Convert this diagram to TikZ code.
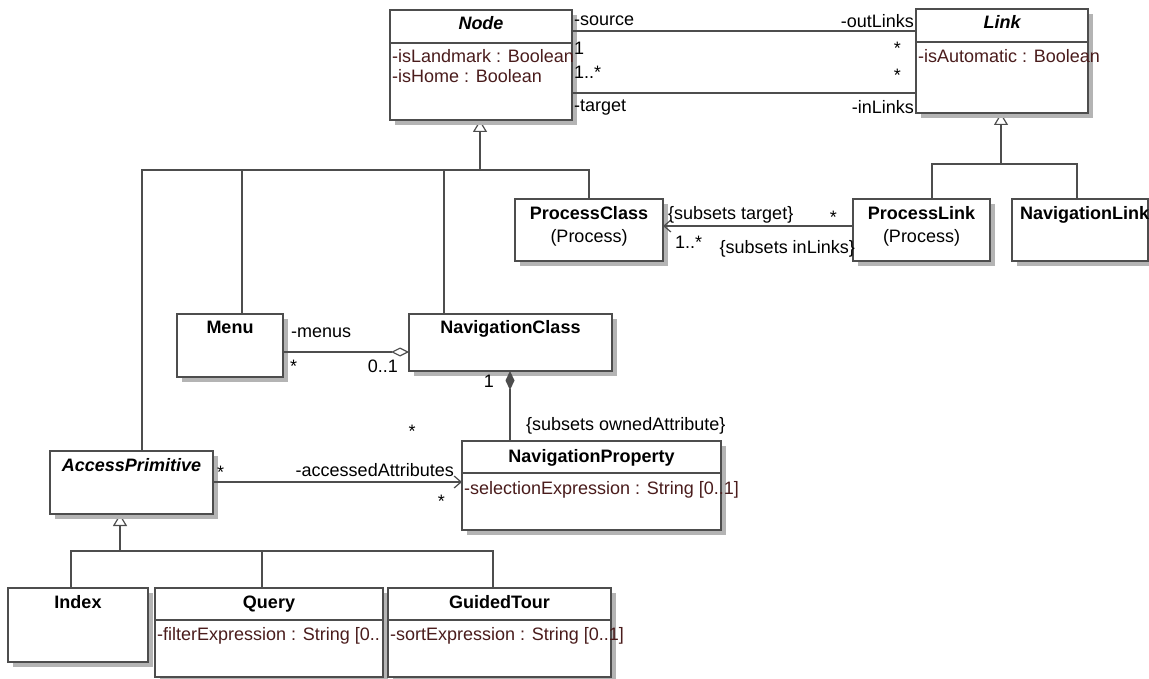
\documentclass[tikz,border=0pt]{standalone}
\usepackage{fontspec}
\setmainfont{Liberation Sans}
\usepackage{tikz}
\usetikzlibrary{positioning,calc,arrows.meta,shadows}
\definecolor{linegray}{HTML}{4D4D4D}
\definecolor{shadowgray}{HTML}{B4B4B4}
\definecolor{attrbrown}{HTML}{4A1C1C}
\newcommand{\umlsize}{\fontsize{18}{21}\selectfont}
\pgfdeclarelayer{background}
\pgfsetlayers{background,main}

\begin{document}
\begin{tikzpicture}[x=1pt, y=-1pt,
  cls/.style={draw=linegray, line width=1.2pt, fill=white, rectangle, anchor=north west,
    outer sep=0pt, inner sep=0pt,
    drop shadow={shadow xshift=5pt, shadow yshift=-5pt, fill=shadowgray, opacity=1}},
  title/.style={font=\umlsize\bfseries, anchor=base, inner sep=0pt},
  attr/.style={font=\umlsize, text=attrbrown, anchor=base west, inner sep=0pt},
  lbl/.style={font=\umlsize, inner sep=0pt},
  line/.style={draw=linegray, line width=1.2pt},
  sepline/.style={draw=linegray, line width=1.2pt},
  gen/.style={line, -{Triangle[open, length=12pt, width=14pt]}},
  nav/.style={line, -{Straight Barb[length=7pt, width=12pt]}}]

\useasboundingbox (0,0) rectangle (1149,679);

% top classes
\node[cls, minimum width=182pt, minimum height=110pt] (node) at (390,10) {};
\node[title] (nodename) at ([yshift=-20pt]node.north) {\itshape Node};
\draw[sepline] ([yshift=-33pt]node.north west) -- ([yshift=-33pt]node.north east);
\node[attr] (nodeattr1) at ([shift={(2,53)}]node.north west) {-isLandmark : Boolean};
\node[attr] (nodeattr2) at ([shift={(2,73)}]node.north west) {-isHome : Boolean};

\node[cls, minimum width=172pt, minimum height=104pt] (link) at (916,9) {};
\node[title] (linkname) at ([yshift=-20pt]link.north) {\itshape Link};
\draw[sepline] ([yshift=-33pt]link.north west) -- ([yshift=-33pt]link.north east);
\node[attr] (linkattr1) at ([shift={(2,54)}]link.north west) {-isAutomatic : Boolean};

% process / navigation links
\node[cls, minimum width=148pt, minimum height=62pt] (pclass) at (515,199) {};
\node[title] (pclassname) at ([yshift=-21pt]pclass.north) {ProcessClass};
\node[title, font=\umlsize] (pclasspkg) at ([yshift=-44pt]pclass.north) {(Process)};

\node[cls, minimum width=137pt, minimum height=62pt] (plink) at (853,199) {};
\node[title] (plinkname) at ([yshift=-21pt]plink.north) {ProcessLink};
\node[title, font=\umlsize] (plinkpkg) at ([yshift=-44pt]plink.north) {(Process)};

\node[cls, minimum width=136pt, minimum height=62pt] (navlink) at (1012,199) {};
\node[title] (navlinkname) at ([shift={(8,21)}]navlink.north west) [anchor=base west] {NavigationLink};

% navigation classes
\node[cls, minimum width=106pt, minimum height=63pt] (menu) at (177,314) {};
\node[title] (menuname) at ([yshift=-19pt]menu.north) {Menu};

\node[cls, minimum width=203pt, minimum height=57pt] (navclass) at (409,314) {};
\node[title] (navclassname) at ([yshift=-19pt]navclass.north) {NavigationClass};

\node[cls, minimum width=259pt, minimum height=89pt] (navprop) at (462,441) {};
\node[title] (navpropname) at ([yshift=-21pt]navprop.north) {NavigationProperty};
\draw[sepline] ([yshift=-32pt]navprop.north west) -- ([yshift=-32pt]navprop.north east);
\node[attr] (navpropattr1) at ([shift={(2,53)}]navprop.north west) {-selectionExpression : String [0..1]};

\node[cls, minimum width=163pt, minimum height=63pt] (access) at (50,451) {};
\node[title] (accessname) at ([yshift=-20pt]access.north) {\itshape AccessPrimitive};

% access primitives
\node[cls, minimum width=140pt, minimum height=74pt] (index) at (8,588) {};
\node[title] (indexname) at ([yshift=-20pt]index.north) {Index};

\node[cls, minimum width=228pt, minimum height=89pt] (query) at (155,588) {};
\node[title] (queryname) at ([yshift=-20pt]query.north) {Query};
\draw[sepline] ([yshift=-32pt]query.north west) -- ([yshift=-32pt]query.north east);
\node[attr] (queryattr1) at ([shift={(2,52)}]query.north west) {-filterExpression : String [0..};

\node[cls, minimum width=223pt, minimum height=89pt] (tour) at (388,588) {};
\node[title] (tourname) at ([yshift=-20pt]tour.north) {GuidedTour};
\draw[sepline] ([yshift=-32pt]tour.north west) -- ([yshift=-32pt]tour.north east);
\node[attr] (tourattr1) at ([shift={(2,52)}]tour.north west) {-sortExpression : String [0..1]};

% generalizations, behind the shadows
\begin{pgfonlayer}{background}
\coordinate (nfork) at (480,170);
\draw[gen] (nfork) -- (nfork |- node.south);
\draw[line] (access.north -| 142,0) |- (nfork);
\draw[line] (menu.north -| 242,0) |- (nfork);
\draw[line] (navclass.north -| 444,0) |- (nfork);
\draw[line] (pclass.north) |- (nfork);

\coordinate (lfork) at (1001,164);
\draw[gen] (lfork) -- (lfork |- link.south);
\draw[line] (plink.north -| 932,0) |- (lfork);
\draw[line] (navlink.north -| 1077,0) |- (lfork);

\coordinate (afork) at (120,551);
\draw[gen] (afork) -- (afork |- access.south);
\draw[line] (index.north -| 71,0) |- (afork);
\draw[line] (query.north -| 262,0) |- (afork);
\draw[line] (tour.north -| 493,0) |- (afork);
\end{pgfonlayer}

% node -- link
\draw[line] (node.east |- 0,31) coordinate (srcA) -- (link.west |- 0,31) coordinate (srcB);
\draw[line] (node.east |- 0,93) coordinate (tgtA) -- (link.west |- 0,93) coordinate (tgtB);
\node[lbl, anchor=west] (srcrole) at ($(srcA)+(2,-10)$) {-source};
\node[lbl, anchor=west] (srcmult) at ($(srcA)+(2,17)$) {1};
\node[lbl, anchor=west] (tgtmult) at ($(tgtA)+(2,-21)$) {1..*};
\node[lbl, anchor=west] (tgtrole) at ($(tgtA)+(2,15)$) {-target};
\node[lbl, anchor=east] (outrole) at ($(srcB)+(-2,-10)$) {-outLinks};
\node[lbl, anchor=east] (outmult) at ($(srcB)+(-15,17)$) {*};
\node[lbl, anchor=east] (inmult) at ($(tgtB)+(-15,-18)$) {*};
\node[lbl, anchor=east] (inrole) at ($(tgtB)+(-2,14)$) {-inLinks};

% process link -- process class
\draw[nav] (plink.west |- 0,226) coordinate (pA) -- (pclass.east |- 0,226) coordinate (pB);
\node[lbl, anchor=west] (ptgtrole) at ($(pB)+(5,-11)$) {\{subsets target\}};
\node[lbl, anchor=west] (ptgtmult) at ($(pB)+(12,16)$) {1..*};
\node[lbl, anchor=east] (pinmult) at ($(pA)+(-16,-9)$) {*};
\node[lbl, anchor=east] (pinrole) at ($(pA)+(2,23)$) {\{subsets inLinks\}};

% menu -- navigation class
\draw[line, -{Diamond[open, length=18pt, width=9pt]}] (menu.east |- 0,352) coordinate (mA) -- (navclass.west |- 0,352) coordinate (mB);
\node[lbl, anchor=west] (menurole) at ($(mA)+(8,-19)$) {-menus};
\node[lbl, anchor=west] (menumult) at ($(mA)+(7,14)$) {*};
\node[lbl, anchor=east] (ownermult) at ($(mB)+(-11,14)$) {0..1};

% navigation class <>-- navigation property
\draw[line, -{Diamond[length=19pt, width=9pt]}] (navprop.north -| 510,0) coordinate (cA) -- (navclass.south -| 510,0) coordinate (cB);
\node[lbl, anchor=east] (compmult) at ($(cB)+(-16,10)$) {1};
\node[lbl, anchor=west] (comprole) at ($(cA)+(16,-15)$) {\{subsets ownedAttribute\}};
\node[lbl] (ownedmult) at ($(cA)+(-98,-10)$) {*};

% access primitive -- navigation property
\draw[nav] (access.east |- 0,482) coordinate (aA) -- (navprop.west |- 0,482) coordinate (aB);
\node[lbl, anchor=west] (accmult) at ($(aA)+(4,-10)$) {*};
\node[lbl, anchor=east] (accrole) at ($(aB)+(-8,-12)$) {-accessedAttributes};
\node[lbl, anchor=east] (attmult) at ($(aB)+(-17,19)$) {*};
\end{tikzpicture}
\end{document}
